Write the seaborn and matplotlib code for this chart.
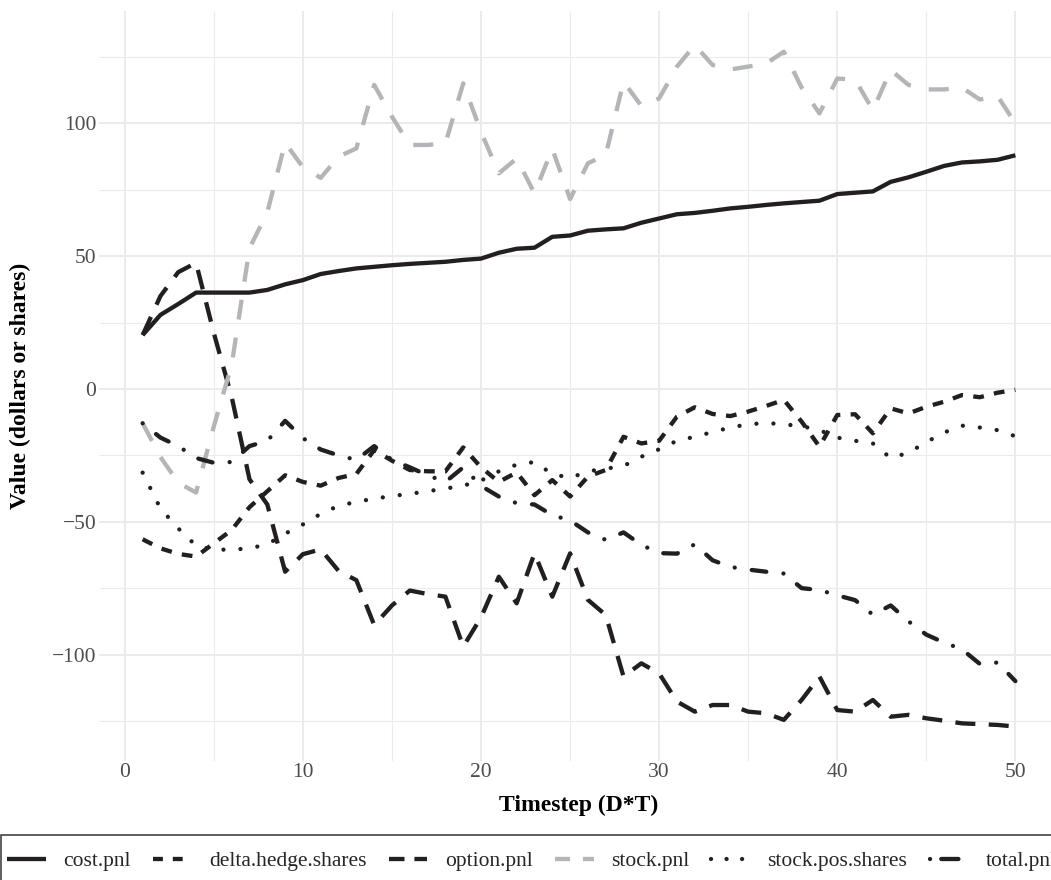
import matplotlib
matplotlib.use("Agg")
import matplotlib.pyplot as plt
from matplotlib.lines import Line2D
from matplotlib.patches import Rectangle
from matplotlib.ticker import MultipleLocator
import pandas as pd
import seaborn as sns

# ---- data -------------------------------------------------------------
timestep = list(range(1, 51))

cost_pnl = [20.3, 27.9, 32.0, 36.3, 36.3, 36.3, 36.3, 37.3, 39.4, 41.0,
            43.3, 44.4, 45.4, 46.0, 46.6, 47.1, 47.5, 47.9, 48.6, 49.1,
            51.3, 52.8, 53.2, 57.3, 57.8, 59.6, 60.1, 60.5, 62.6, 64.2,
            65.8, 66.3, 67.1, 68.0, 68.6, 69.3, 69.9, 70.4, 70.9, 73.4,
            73.9, 74.4, 78.0, 79.7, 81.8, 84.0, 85.3, 85.7, 86.3, 88.0]

delta_hedge_shares = [-56.6, -60.0, -62.1, -63.1, -58.1, -53.1, -44.5, -38.5, -32.5, -35.0,
                      -36.4, -33.5, -32.0, -23.0, -27.0, -30.5, -31.0, -31.0, -22.0, -29.5,
                      -35.0, -31.4, -40.0, -34.3, -40.5, -33.0, -30.5, -18.0, -20.5, -19.5,
                      -10.4, -6.9, -9.4, -10.2, -8.5, -6.4, -4.1, -12.3, -21.7, -9.8,
                      -9.5, -16.7, -7.3, -9.2, -6.7, -4.8, -2.3, -3.1, -1.4, -0.3]

option_pnl = [20.3, 35.0, 44.0, 47.5, 21.0, -3.0, -34.0, -43.5, -68.8, -62.2,
              -60.4, -68.5, -72.0, -88.9, -81.5, -75.9, -77.2, -78.2, -97.0, -86.0,
              -70.7, -80.7, -61.9, -78.2, -61.9, -79.4, -85.1, -108.3, -103.3, -107.1,
              -117.7, -121.5, -119.0, -119.0, -121.5, -122.1, -124.6, -117.1, -108.3, -120.9,
              -121.5, -117.1, -123.4, -122.7, -124.0, -124.9, -125.9, -126.2, -126.5, -127.1]

stock_pnl = [-12.9, -25.6, -35.3, -39.0, -14.0, 9.1, 53.0, 66.5, 92.7, 83.5,
             79.5, 87.5, 90.6, 114.5, 102.5, 91.9, 91.9, 92.5, 115.1, 96.8,
             81.2, 86.8, 73.7, 90.4, 71.5, 85.0, 88.1, 115.7, 106.6, 109.4,
             121.4, 129.5, 122.0, 120.3, 121.4, 122.5, 127.0, 113.5, 103.8, 116.9,
             116.5, 105.0, 120.1, 114.5, 112.8, 112.8, 113.5, 109.0, 110.3, 100.0]

stock_pos_shares = [-31.5, -45.0, -52.5, -59.0, -60.5, -60.5, -60.0, -58.5, -54.5, -51.0,
                    -47.0, -44.0, -42.5, -41.3, -40.3, -39.5, -38.5, -37.5, -36.4, -34.5,
                    -31.0, -28.5, -27.5, -32.0, -33.5, -31.0, -30.0, -29.0, -25.5, -22.7,
                    -19.5, -18.0, -16.2, -14.5, -13.3, -12.8, -13.3, -14.0, -15.5, -18.3,
                    -19.5, -20.5, -26.0, -24.0, -20.0, -16.4, -13.8, -14.5, -15.5, -17.8]

total_pnl = [-12.9, -18.3, -21.5, -26.0, -27.8, -27.5, -21.5, -19.5, -12.0, -18.5,
             -22.8, -25.0, -26.7, -21.5, -26.7, -29.5, -32.5, -35.0, -29.5, -36.5,
             -40.5, -43.0, -43.5, -47.5, -49.5, -54.0, -56.8, -54.0, -58.7, -61.8,
             -62.0, -58.5, -64.5, -67.0, -68.0, -68.8, -69.5, -75.0, -75.7, -77.7,
             -79.5, -85.0, -81.5, -87.5, -92.5, -95.5, -98.0, -103.5, -103.0, -110.0]

series_names = ["cost.pnl", "delta.hedge.shares", "option.pnl",
                "stock.pnl", "stock.pos.shares", "total.pnl"]

wide = pd.DataFrame({
    "timestep": timestep,
    "cost.pnl": cost_pnl,
    "delta.hedge.shares": delta_hedge_shares,
    "option.pnl": option_pnl,
    "stock.pnl": stock_pnl,
    "stock.pos.shares": stock_pos_shares,
    "total.pnl": total_pnl,
})
long = wide.melt(id_vars="timestep", var_name="variable", value_name="value")

# ---- style ------------------------------------------------------------
sns.set_theme(style="white")
plt.rcParams["font.family"] = ["Liberation Serif", "DejaVu Serif"]
plt.rcParams["lines.solid_capstyle"] = "butt"
plt.rcParams["lines.dash_capstyle"] = "butt"
plt.rcParams["lines.solid_joinstyle"] = "round"
plt.rcParams["lines.dash_joinstyle"] = "round"

ink = "#231f20"
grey = "#b4b5b8"
palette = {n: ink for n in series_names}
palette["stock.pnl"] = grey

# dash patterns (on/off) in line-width units
dashes = {
    "cost.pnl": "",
    "delta.hedge.shares": (2.5, 2.4),
    "option.pnl": (4.65, 3.1),
    "stock.pnl": (4.65, 4.25),
    "stock.pos.shares": (0.01, 3.95),
    "total.pnl": (0.01, 4.0, 3.4, 4.0),
}
# shorter patterns for the legend keys so each key shows two marks
key_dashes = {
    "cost.pnl": "",
    "delta.hedge.shares": (2.3, 2.3),
    "option.pnl": (3.6, 2.3),
    "stock.pnl": (3.5, 3.0),
    "stock.pos.shares": (0.01, 3.6),
    "total.pnl": (0.01, 2.6, 4.0, 2.6),
}
round_caps = {"stock.pos.shares", "total.pnl"}
lw = 3.1

W, H = 1051, 880
fig = plt.figure(figsize=(W / 100, H / 100), dpi=100, facecolor="white")
# panel runs a little past the right edge of the canvas
ax = fig.add_axes([99 / W, 119.4 / H, 960 / W, 749.6 / H])

sns.lineplot(data=long, x="timestep", y="value", hue="variable", style="variable",
             hue_order=series_names, style_order=series_names,
             palette=palette, dashes=dashes, linewidth=lw,
             errorbar=None, legend=False, ax=ax)

for line, name in zip(ax.get_lines(), series_names):
    if name in round_caps:
        line.set_dash_capstyle("round")

ax.set_facecolor("white")
for sp in ax.spines.values():
    sp.set_visible(False)
ax.xaxis.set_major_locator(MultipleLocator(10))
ax.xaxis.set_minor_locator(MultipleLocator(5))
ax.yaxis.set_major_locator(MultipleLocator(50))
ax.yaxis.set_minor_locator(MultipleLocator(25))
ax.grid(which="major", color="#ebebeb", linewidth=1.4)
ax.grid(which="minor", color="#ebebeb", linewidth=0.8)
ax.set_axisbelow(True)
ax.tick_params(which="both", length=0, labelsize=15.5, labelcolor="#4d4d4d", pad=2)

ax.set_xlabel("Timestep (D*T)", fontsize=17, fontweight="bold", color="black")
ax.set_ylabel("Value (dollars or shares)", fontsize=17, fontweight="bold", color="black")
ax.xaxis.set_label_coords(0.5, -0.0457)
ax.yaxis.set_label_coords(-0.0708, 0.5)

# ---- legend -----------------------------------------------------------
handles = []
for n in series_names:
    if key_dashes[n]:
        h = Line2D([], [], color=palette[n], lw=lw, dashes=key_dashes[n])
        if n in round_caps:
            h.set_dash_capstyle("round")
    else:
        h = Line2D([], [], color=palette[n], lw=lw, linestyle="-")
    handles.append(h)

fig.legend(handles, series_names, loc="center left",
           bbox_to_anchor=(7 / W, (H - 861) / H), bbox_transform=fig.transFigure,
           ncol=6, frameon=False, fontsize=15.5, handlelength=1.8,
           handletextpad=0.8, columnspacing=1.04, borderpad=0, borderaxespad=0)

fig.add_artist(Rectangle((0.8 / W, -0.05), 2.0, (H - 835) / H + 0.05,
                         transform=fig.transFigure, fill=False,
                         edgecolor="#333333", linewidth=1.1))

fig.savefig("out.png", dpi=100, facecolor="white")
